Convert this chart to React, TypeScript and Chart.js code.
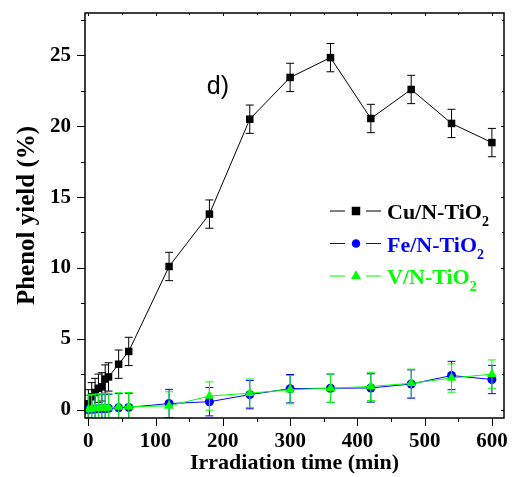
import React, { useEffect, useRef } from 'react';
import { Chart, registerables } from 'chart.js';

Chart.register(...registerables);

// Irradiation times (min)
const times = [0, 5, 10, 15, 20, 25, 30, 45, 60, 120, 180, 240, 300, 360, 420, 480, 540, 600];

// Phenol yield (%) per catalyst, with error bar half-widths
const cuYield = [0.4, 0.9, 1.2, 1.5, 1.6, 2.15, 2.3, 3.2, 4.1, 10.1, 13.8, 20.5, 23.45, 24.85, 20.55, 22.6, 20.2, 18.85];
const cuError = [1, 1, 1, 1, 1, 1, 1, 1, 1, 1, 1, 1, 1, 1, 1, 1, 1, 1];
const feYield = [0.0, 0.02, 0.03, 0.05, 0.05, 0.06, 0.08, 0.12, 0.15, 0.42, 0.55, 1.05, 1.47, 1.5, 1.52, 1.8, 2.4, 2.12];
const feError = [1, 1, 1, 1, 1, 1, 1, 1, 1, 1, 1, 1, 1, 1, 1, 1, 1, 1];
const vYield = [0.0, 0.05, 0.08, 0.1, 0.1, 0.12, 0.12, 0.18, 0.2, 0.25, 0.95, 1.15, 1.4, 1.5, 1.63, 1.85, 2.22, 2.5];
const vError = [1, 1, 1, 1, 1, 1, 1, 1, 1, 1, 1, 1, 1, 1, 1, 1, 1, 1];

// Axis ticks
const xTicks = [0, 100, 200, 300, 400, 500, 600];
const xMinorTicks = [50, 150, 250, 350, 450, 550];
const yTicks = [0, 5, 10, 15, 20, 25];
const yMinorTicks = [2.5, 7.5, 12.5, 17.5, 22.5, 27.5];

const seriesNames = ['Cu/N-TiO', 'Fe/N-TiO', 'V/N-TiO'];
const seriesColors = ['#000000', '#0000ff', '#00ff00'];
const seriesShapes = ['rect', 'circle', 'triangle'];

const SERIF = 'Liberation Serif, serif';

Chart.defaults.font.family = SERIF;
Chart.defaults.font.weight = 'bold' as any;
Chart.defaults.color = '#000';

const toPoints = (ys: number[]) => times.map((t, i) => ({ x: t, y: ys[i] }));

function drawShape(ctx: CanvasRenderingContext2D, shape: string, x: number, y: number, size: number) {
  ctx.beginPath();
  if (shape === 'rect') {
    ctx.rect(x - size / 2, y - size / 2, size, size);
  } else if (shape === 'circle') {
    ctx.arc(x, y, size / 2, 0, Math.PI * 2);
  } else {
    const r = size / 1.73;
    ctx.moveTo(x, y - r);
    ctx.lineTo(x + r * 0.866, y + r * 0.5);
    ctx.lineTo(x - r * 0.866, y + r * 0.5);
    ctx.closePath();
  }
  ctx.fill();
}

// Vertical error bars with caps, drawn just beneath each dataset's markers
const errorBars = {
  id: 'errorBars',
  beforeDatasetDraw(chart: any, args: any) {
    const ds = chart.data.datasets[args.index];
    const errs: number[] = ds.errors;
    if (!errs) return;
    const { ctx, chartArea, scales } = chart;
    ctx.save();
    ctx.beginPath();
    ctx.rect(chartArea.left, chartArea.top, chartArea.right - chartArea.left, chartArea.bottom - chartArea.top);
    ctx.clip();
    ctx.strokeStyle = ds.borderColor;
    ctx.lineWidth = 1;
    ds.data.forEach((p: any, i: number) => {
      const x = scales.x.getPixelForValue(p.x);
      const yt = scales.y.getPixelForValue(p.y + errs[i]);
      const yb = scales.y.getPixelForValue(p.y - errs[i]);
      ctx.beginPath();
      ctx.moveTo(x, yt);
      ctx.lineTo(x, yb);
      ctx.moveTo(x - 4, yt);
      ctx.lineTo(x + 4, yt);
      ctx.moveTo(x - 4, yb);
      ctx.lineTo(x + 4, yb);
      ctx.stroke();
    });
    ctx.restore();
  },
};

// Box frame with major/minor tick marks
const frame = {
  id: 'frame',
  afterDraw(chart: any) {
    const { ctx, chartArea: a, scales } = chart;
    ctx.save();
    ctx.strokeStyle = '#000';
    ctx.lineWidth = 1.5;
    ctx.strokeRect(a.left, a.top, a.right - a.left, a.bottom - a.top);
    ctx.lineWidth = 1;
    ctx.beginPath();
    const xs = (v: number) => Math.round(scales.x.getPixelForValue(v)) + 0.5;
    const ys = (v: number) => Math.round(scales.y.getPixelForValue(v)) + 0.5;
    xTicks.forEach((v) => {
      const x = xs(v);
      ctx.moveTo(x, a.bottom);
      ctx.lineTo(x, a.bottom + 8);
      ctx.moveTo(x, a.top);
      ctx.lineTo(x, a.top + 3);
    });
    xMinorTicks.forEach((v) => {
      const x = xs(v);
      ctx.moveTo(x, a.bottom);
      ctx.lineTo(x, a.bottom + 4);
      ctx.moveTo(x, a.top);
      ctx.lineTo(x, a.top + 2);
    });
    yTicks.forEach((v) => {
      const y = ys(v);
      ctx.moveTo(a.left, y);
      ctx.lineTo(a.left - 8, y);
      ctx.moveTo(a.right, y);
      ctx.lineTo(a.right - 3, y);
    });
    yMinorTicks.forEach((v) => {
      const y = ys(v);
      ctx.moveTo(a.left, y);
      ctx.lineTo(a.left - 4, y);
      ctx.moveTo(a.right, y);
      ctx.lineTo(a.right - 2, y);
    });
    ctx.stroke();
    ctx.restore();
  },
};

// Panel label and legend with subscripted formulas
const annotations = {
  id: 'annotations',
  afterDatasetsDraw(chart: any) {
    const { ctx, chartArea: a, scales } = chart;
    ctx.save();
    ctx.fillStyle = '#000';
    ctx.font = '25px "Liberation Sans", Arial, sans-serif';
    ctx.textAlign = 'left';
    ctx.textBaseline = 'middle';
    ctx.fillText('d)', scales.x.getPixelForValue(176), scales.y.getPixelForValue(22.8));

    const x0 = a.right - 174;
    const baseline0 = a.top + 206;
    seriesNames.forEach((name, i) => {
      const base = baseline0 + i * 32.5;
      const my = base - 8;
      const color = seriesColors[i];
      ctx.strokeStyle = color;
      ctx.fillStyle = color;
      ctx.lineWidth = 1;
      ctx.beginPath();
      ctx.moveTo(x0, my);
      ctx.lineTo(x0 + 15, my);
      ctx.moveTo(x0 + 36, my);
      ctx.lineTo(x0 + 51, my);
      ctx.stroke();
      drawShape(ctx, seriesShapes[i], x0 + 26, my, i === 2 ? 10 : 8.5);
      ctx.textBaseline = 'alphabetic';
      ctx.font = `bold 22px ${SERIF}`;
      ctx.fillText(name, x0 + 57, base);
      const w = ctx.measureText(name).width;
      ctx.font = `bold 14px ${SERIF}`;
      ctx.fillText('2', x0 + 57 + w, base + 7);
    });
    ctx.restore();
  },
};

export default function App() {
  const ref = useRef<HTMLCanvasElement>(null);

  useEffect(() => {
    if (!ref.current) return;
    const tickFont = () => ({ family: SERIF, weight: 'bold', size: 21 });
    const chart = new Chart(ref.current, {
      type: 'line',
      data: {
        datasets: [
          {
            label: 'Cu/N-TiO₂',
            data: toPoints(cuYield),
            errors: cuError,
            borderColor: seriesColors[0],
            backgroundColor: seriesColors[0],
            borderWidth: 1,
            pointStyle: 'rect',
            pointRadius: 5.3,
            pointBorderWidth: 0,
            order: 2,
            clip: false,
          } as any,
          {
            label: 'Fe/N-TiO₂',
            data: toPoints(feYield),
            errors: feError,
            borderColor: seriesColors[1],
            backgroundColor: seriesColors[1],
            borderWidth: 1,
            pointStyle: 'circle',
            pointRadius: 4.5,
            pointBorderWidth: 0,
            order: 1,
            clip: false,
          } as any,
          {
            label: 'V/N-TiO₂',
            data: toPoints(vYield),
            errors: vError,
            borderColor: seriesColors[2],
            backgroundColor: seriesColors[2],
            borderWidth: 1,
            pointStyle: 'triangle',
            pointRadius: 5.6,
            pointBorderWidth: 0,
            order: 0,
            clip: false,
          } as any,
        ],
      },
      options: {
        responsive: false,
        animation: false,
        devicePixelRatio: 1,
        font: { family: SERIF, weight: 'bold' },
        layout: { padding: { left: 0, right: 8, top: 13, bottom: 0 } },
        plugins: {
          legend: { display: false },
          tooltip: { enabled: false },
        },
        scales: {
          x: {
            type: 'linear',
            min: -5,
            max: 618,
            afterBuildTicks: (s: any) => {
              s.ticks = xTicks.map((v) => ({ value: v }));
            },
            afterFit: (s: any) => {
              s.height = 59;
              s.paddingLeft = 0;
              s.paddingRight = 0;
            },
            ticks: { font: tickFont(), color: '#000', padding: 11, maxRotation: 0, autoSkip: false },
            grid: { display: false, drawTicks: false },
            border: { display: false },
            title: {
              display: true,
              text: 'Irradiation time (min)',
              font: { family: SERIF, weight: 'bold', size: 22, lineHeight: 1.2 },
              color: '#000',
              padding: { top: 0, bottom: 0 },
            },
          },
          y: {
            type: 'linear',
            min: -0.6,
            max: 28,
            afterBuildTicks: (s: any) => {
              s.ticks = yTicks.map((v) => ({ value: v }));
            },
            afterFit: (s: any) => {
              s.width = 85;
              s.paddingTop = 0;
              s.paddingBottom = 0;
            },
            ticks: { font: tickFont(), color: '#000', padding: 14, autoSkip: false },
            grid: { display: false, drawTicks: false },
            border: { display: false },
            title: {
              display: true,
              text: 'Phenol yield (%)',
              font: { family: SERIF, weight: 'bold', size: 25, lineHeight: 1.2 },
              color: '#000',
              padding: { top: 13, bottom: 0 },
            },
          },
        },
      },
      plugins: [errorBars, annotations, frame],
    } as any);
    return () => chart.destroy();
  }, []);

  return (
    <div style={{ position: 'fixed', left: 0, top: 0, width: 512, height: 477, background: '#fff' }}>
      <canvas ref={ref} width={512} height={477} style={{ display: 'block', width: 512, height: 477 }} />
    </div>
  );
}
